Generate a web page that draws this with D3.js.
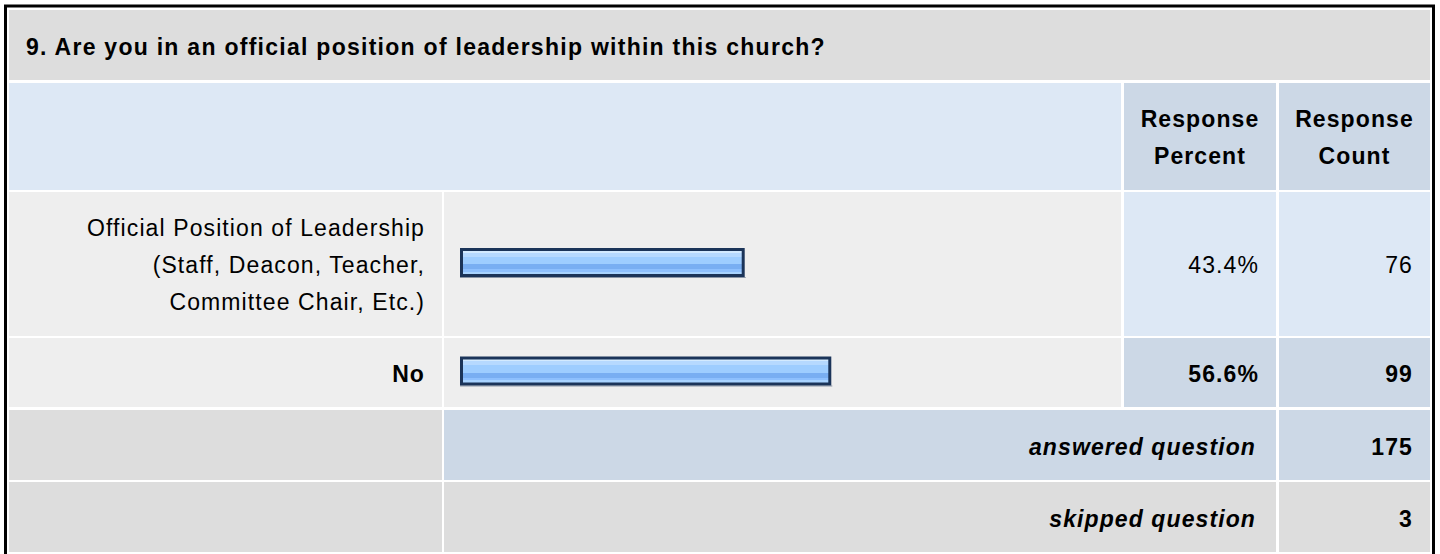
<!DOCTYPE html>
<html>
<head>
<meta charset="utf-8">
<script src="https://cdn.jsdelivr.net/npm/d3@7"></script>
<style>
  html, body { margin: 0; padding: 0; background: #fff; }
  svg text { font-family: "Liberation Sans", Arial, sans-serif; font-size: 23px; letter-spacing: 1.1px; fill: #000; }
</style>
</head>
<body>
<div id="chart"></div>
<script>
// survey question data
var questionTitle = "9. Are you in an official position of leadership within this church?";
var headerLabels = [["Response", "Percent"], ["Response", "Count"]];
var choiceLabels = [
    ["Official Position of Leadership", "(Staff, Deacon, Teacher,", "Committee Chair, Etc.)"],
    ["No"]
];
var responsePercent = [43.4, 56.6];
var responseCount = [76, 99];
var answeredCount = 175;
var skippedCount = 3;

(function () {
    "use strict";

    var W = 1440, H = 554;
    // column edges (label | bar | percent | count)
    var cols = [[9, 442], [444, 1121], [1124, 1276], [1279, 1430]];
    var rowTitle = [10, 80], rowHead = [83, 190];
    var choiceRows = [[192, 336], [338, 407]];
    var rowAnswered = [410, 480], rowSkipped = [482, 552];
    var pad = 17, lineH = 37;

    var C = { grey: "#dddddd", light: "#eeeeee", blue: "#dde8f5", blueDark: "#ccd8e6" };

    var svg = d3.select("#chart").append("svg").attr("width", W).attr("height", H);

    var defs = svg.append("defs");
    var grad = defs.append("linearGradient").attr("id", "barGrad")
        .attr("x1", 0).attr("y1", 0).attr("x2", 0).attr("y2", 1);
    [[0, "#d3eaff"], [0.12, "#d3eaff"], [0.12, "#b6d9ff"], [0.28, "#b6d9ff"], [0.28, "#9ecdff"],
     [0.57, "#9ecdff"], [0.57, "#79aef2"], [0.76, "#79aef2"], [0.76, "#8ec0fe"], [0.86, "#8ec0fe"],
     [0.86, "#a8d3ff"], [1, "#a8d3ff"]].forEach(function (s) {
        grad.append("stop").attr("offset", s[0]).attr("stop-color", s[1]);
    });

    // outer frame
    svg.append("rect").attr("x", 5.5).attr("y", 6).attr("width", 1428).attr("height", 560)
        .attr("fill", "none").attr("stroke", "#000").attr("stroke-width", 3);

    function cell(x0, x1, r, fill) {
        svg.append("rect").attr("x", x0).attr("y", r[0]).attr("width", x1 - x0).attr("height", r[1] - r[0]).attr("fill", fill);
    }
    function mid(r) { return (r[0] + r[1]) / 2; }

    // title row
    cell(cols[0][0], cols[3][1], rowTitle, C.grey);
    svg.append("text").attr("x", 26).attr("y", mid(rowTitle) + 10)
        .style("font-weight", "bold").style("letter-spacing", "1.27px").text(questionTitle);

    // header row
    cell(cols[0][0], cols[1][1], rowHead, C.blue);
    headerLabels.forEach(function (lines, i) {
        var c = cols[i + 2];
        cell(c[0], c[1], rowHead, C.blueDark);
        var t = svg.append("text").attr("text-anchor", "middle").style("font-weight", "bold");
        lines.forEach(function (l, j) {
            t.append("tspan").attr("x", (c[0] + c[1]) / 2)
                .attr("y", mid(rowHead) + 9 + (j - (lines.length - 1) / 2) * lineH).text(l);
        });
    });

    // choice rows
    var x = d3.scaleLinear().domain([0, 100]).range([0, 656]);
    var barX = 460, barH = 29;
    var top = d3.max(responsePercent);

    choiceLabels.forEach(function (lines, i) {
        var r = choiceRows[i];
        var hi = responsePercent[i] === top;
        var weight = hi ? "bold" : "normal";
        cell(cols[0][0], cols[0][1], r, C.light);
        cell(cols[1][0], cols[1][1], r, C.light);
        cell(cols[2][0], cols[2][1], r, hi ? C.blueDark : C.blue);
        cell(cols[3][0], cols[3][1], r, hi ? C.blueDark : C.blue);

        var t = svg.append("text").attr("text-anchor", "end").style("font-weight", weight);
        lines.forEach(function (l, j) {
            t.append("tspan").attr("x", cols[0][1] - pad)
                .attr("y", mid(r) + 9 + (j - (lines.length - 1) / 2) * lineH).text(l);
        });

        var by = mid(r) - 16;
        svg.append("rect").attr("x", barX).attr("y", by + barH).attr("width", x(responsePercent[i]) + 1).attr("height", 1)
            .attr("fill", "#8b96a6");
        svg.append("rect").attr("x", barX + 1.5).attr("y", by + 1.5)
            .attr("width", x(responsePercent[i]) - 3).attr("height", barH - 3)
            .attr("fill", "url(#barGrad)").attr("stroke", "#1b3459").attr("stroke-width", 3);

        svg.append("text").attr("text-anchor", "end").attr("x", cols[2][1] - pad).attr("y", mid(r) + 9)
            .style("font-weight", weight).text(responsePercent[i].toFixed(1) + "%");
        svg.append("text").attr("text-anchor", "end").attr("x", cols[3][1] - pad).attr("y", mid(r) + 9)
            .style("font-weight", weight).text(responseCount[i]);
    });

    // summary rows
    [[rowAnswered, "answered question", answeredCount, C.blueDark], [rowSkipped, "skipped question", skippedCount, C.grey]]
        .forEach(function (s) {
            var r = s[0];
            cell(cols[0][0], cols[0][1], r, C.grey);
            cell(cols[1][0], cols[2][1], r, s[3]);
            cell(cols[3][0], cols[3][1], r, s[3]);
            svg.append("text").attr("text-anchor", "end").attr("x", cols[2][1] - pad - 3).attr("y", mid(r) + 10)
                .style("font-weight", "bold").style("font-style", "italic").text(s[1]);
            svg.append("text").attr("text-anchor", "end").attr("x", cols[3][1] - pad).attr("y", mid(r) + 10)
                .style("font-weight", "bold").text(s[2]);
        });
})();
</script>
</body>
</html>
